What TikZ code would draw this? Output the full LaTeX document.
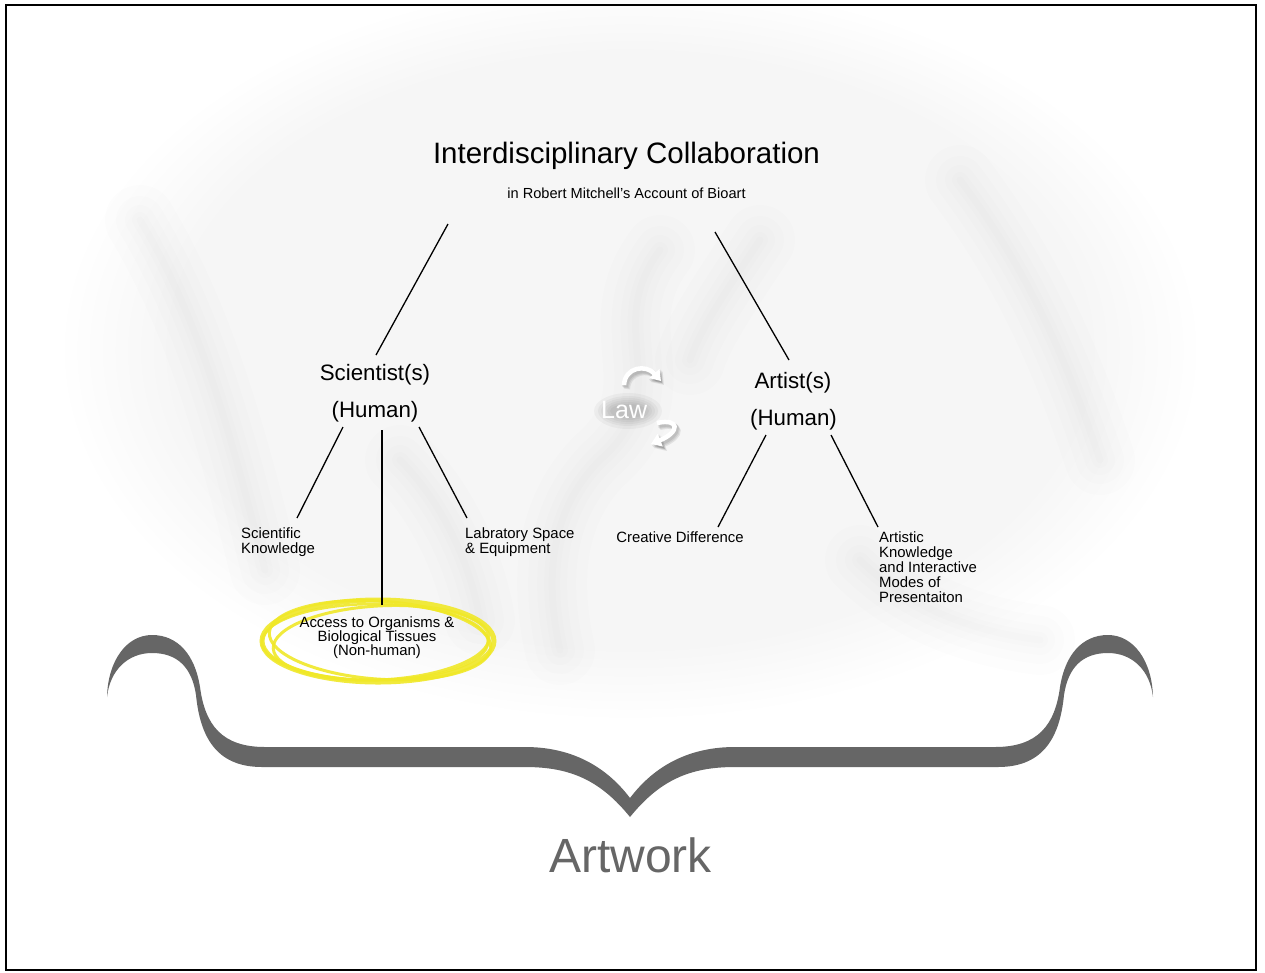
\documentclass[tikz,border=0pt]{standalone}
\usepackage{fontspec}
\setmainfont{Liberation Sans}
\usetikzlibrary{arrows.meta,fadings,calc}
\definecolor{bracegray}{RGB}{102,102,102}
\definecolor{hiyel}{RGB}{240,232,40}
\begin{document}
\begin{tikzpicture}[x=1pt,y=-1pt,
  conn/.style={line width=1.3pt, black},
  titlestyle/.style={font=\fontsize{29.5}{34}\selectfont, anchor=base, inner sep=0pt},
  subtstyle/.style={font=\fontsize{14.6}{16}\selectfont, anchor=base, inner sep=0pt},
  role/.style={font=\fontsize{22.3}{26}\selectfont, anchor=base, inner sep=0pt},
  lbl/.style={font=\fontsize{14.9}{15}\selectfont, inner sep=0pt},
  fold/.style={black, opacity=0.006, line cap=round, line join=round},
  yring/.style={draw=hiyel, opacity=0.9},
  lawarrow/.style={white, line width=4.5pt, -{Triangle[length=10pt,width=13pt]}},
  lawshadow/.style={black, opacity=0.08, line width=6pt, -{Triangle[length=11pt,width=15pt]}},
  lawtext/.style={font=\fontsize{25}{30}\selectfont, anchor=base west, inner sep=0pt},
]
\useasboundingbox (0,0) rectangle (1265,972);
\fill[white] (0,0) rectangle (1265,972);

% cloth background
\fill[black, opacity=0.035, path fading=circle with fuzzy edge 20 percent] (630,350) ellipse [x radius=570, y radius=370];
\foreach \w in {70,48,30,16,7} {
  \draw[fold, line width=\w pt] (140,220) .. controls (200,320) and (230,430) .. (265,570);
  \draw[fold, line width=\w pt] (660,250) .. controls (600,330) and (680,390) .. (600,460) .. controls (560,500) and (540,560) .. (560,650);
  \draw[fold, line width=\w pt] (760,240) .. controls (720,300) and (700,330) .. (690,360);
  \draw[fold, line width=\w pt] (960,180) .. controls (1020,260) and (1060,340) .. (1100,460);
  \draw[fold, line width=\w pt] (400,460) .. controls (440,500) and (470,560) .. (480,620);
  \draw[fold, line width=\w pt] (860,560) .. controls (900,600) and (960,630) .. (1040,640);
}

% brace
\fill[bracegray]
  (107,697) .. controls (108,660) and (127,635) .. (152,635)
  .. controls (178,635) and (195,655) .. (200,687)
  .. controls (205,725) and (222,747) .. (265,747)
  -- (525,747)
  .. controls (570,747) and (605,765) .. (630,798)
  .. controls (655,765) and (690,747) .. (735,747)
  -- (995,747)
  .. controls (1038,747) and (1055,725) .. (1060,687)
  .. controls (1065,655) and (1082,635) .. (1108,635)
  .. controls (1133,635) and (1152,660) .. (1153,697)
  .. controls (1150,670) and (1132,653) .. (1108,653)
  .. controls (1082,653) and (1068,668) .. (1064,695)
  .. controls (1060,735) and (1045,767) .. (998,767)
  -- (735,767)
  .. controls (690,767) and (660,780) .. (630,817)
  .. controls (600,780) and (570,767) .. (525,767)
  -- (262,767)
  .. controls (215,767) and (200,735) .. (196,695)
  .. controls (192,668) and (178,653) .. (152,653)
  .. controls (128,653) and (110,670) .. (107,697) -- cycle;

% yellow highlight
\draw[yring, line width=5pt] (378,641) ellipse [x radius=116, y radius=41];
\draw[yring, line width=3pt, rotate around={-4:(378,641)}] (380,640) ellipse [x radius=111, y radius=39];
\draw[yring, line width=3pt, rotate around={3:(378,641)}] (381,643) ellipse [x radius=108, y radius=37];
\draw[yring, line width=2.5pt] (375,642) ellipse [x radius=113, y radius=38];

% texts
\node[titlestyle] (title) at (626.5,163) {Interdisciplinary Collaboration};
\node[subtstyle] (sub) at (626.5,198) {in Robert Mitchell’s Account of Bioart};
\node[role] (sci) at (375,380) {Scientist(s)};
\node[role] (scih) at (375,417) {(Human)};
\node[role] (art) at (793,388) {Artist(s)};
\node[role] (arth) at (793.5,425) {(Human)};
\node[lbl, align=left, anchor=north west] (sk) at (241,527.2) {Scientific\\Knowledge};
\node[lbl, align=left, anchor=north west] (lab) at (465,527.2) {Labratory Space\\\& Equipment};
\node[lbl, anchor=base] (cd) at (680,542) {Creative Difference};
\node[lbl, align=left, anchor=north west] (ak) at (879,531) {Artistic\\Knowledge\\and Interactive\\Modes of\\Presentaiton};
\node[lbl, font=\fontsize{14.9}{14}\selectfont, align=center, anchor=north] (acc) at (377,616.5) {Access to Organisms \&\\Biological Tissues\\(Non-human)};
\node[font=\fontsize{48}{56}\selectfont, text=bracegray, anchor=base, inner sep=0pt] (artwork) at (630.5,872) {Artwork};

% connectors
\coordinate (tl1) at (448,224); \coordinate (tl2) at (376,355);
\coordinate (tr1) at (715,232); \coordinate (tr2) at (789,360);
\coordinate (s1a) at (343,427); \coordinate (s1b) at (297,518);
\coordinate (s2a) at (382,430); \coordinate (s2b) at (382,605);
\coordinate (s3a) at (419,427); \coordinate (s3b) at (467,518);
\coordinate (a1a) at (766,435); \coordinate (a1b) at (718,527);
\coordinate (a2a) at (831,435); \coordinate (a2b) at (878,527);
\draw[conn] (tl1) -- (tl2);
\draw[conn] (tr1) -- (tr2);
\draw[conn] (s1a) -- (s1b);
\draw[conn] (s2a) -- (s2b);
\draw[conn] (s3a) -- (s3b);
\draw[conn] (a1a) -- (a1b);
\draw[conn] (a2a) -- (a2b);

% Law with arrows (white with soft shadow)
\foreach \rx/\ry in {34/18,30/15,27/13,24/11,21/9,18/7} {
  \fill[black, opacity=0.035] (628,411) ellipse [x radius=\rx, y radius=\ry];
}
\coordinate (u1) at (624,385); \coordinate (u2) at (661,381);
\coordinate (l1) at (657,423); \coordinate (l2) at (651,444);
\foreach \dx/\dy in {2/3,3/4,1/2} {
  \draw[lawshadow] ($(u1)+(\dx,\dy)$) .. controls ($(625,367)+(\dx,\dy)$) and ($(646,364)+(\dx,\dy)$) .. ($(u2)+(\dx,\dy)$);
  \draw[lawshadow] ($(l1)+(\dx,\dy)$) .. controls ($(680,418)+(\dx,\dy)$) and ($(680,432)+(\dx,\dy)$) .. ($(l2)+(\dx,\dy)$);
}
\draw[lawarrow] (u1) .. controls (625,367) and (646,364) .. (u2);
\draw[lawarrow] (l1) .. controls (680,418) and (680,432) .. (l2);
\node[lawtext, text=white] (law) at (601,418) {Law};

% frame
\draw[line width=2pt] (6,5) rectangle (1255.5,970);
\end{tikzpicture}
\end{document}
